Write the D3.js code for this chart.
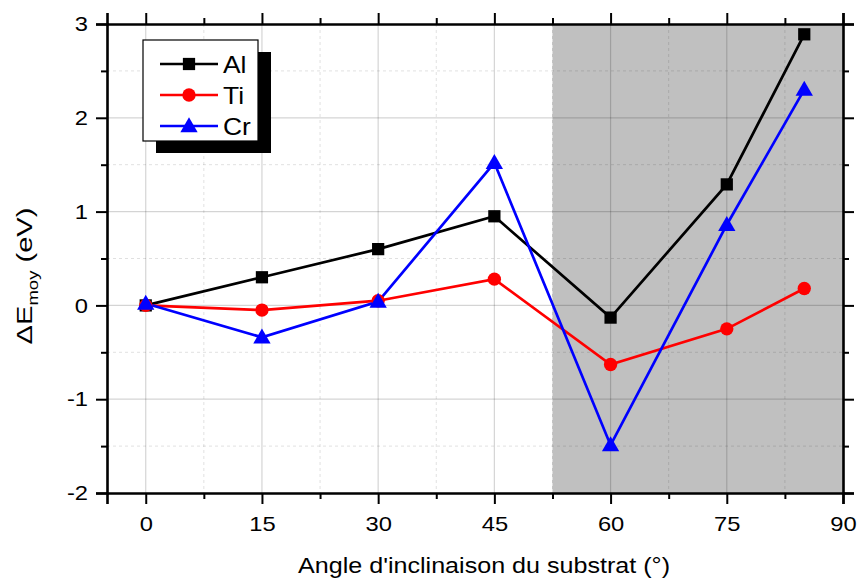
<!DOCTYPE html>
<html><head><meta charset="utf-8">
<script src="https://cdn.jsdelivr.net/npm/d3@7"></script>
<style>body{margin:0;background:#fff}svg{display:block;font-family:"Liberation Sans",Arial,sans-serif}</style>
</head><body><svg id="c" width="858" height="580"></svg>
<script>
const angles = [0, 15, 30, 45, 60, 75, 85];
const alValues = [0, 0.30, 0.60, 0.95, -0.13, 1.29, 2.89];
const tiValues = [0, -0.05, 0.05, 0.28, -0.63, -0.25, 0.18];
const crValues = [0.02, -0.34, 0.04, 1.52, -1.49, 0.86, 2.30];
const seriesNames = ["Al", "Ti", "Cr"];
const xTicks = [0, 15, 30, 45, 60, 75, 90];
const yTicks = [-2, -1, 0, 1, 2, 3];
const shadedRange = [52.5, 90];

const svg = d3.select("#c");
const m = {l:107, r:843, t:24, b:493};
const x = d3.scaleLinear().domain([-5, 90]).range([m.l, m.r]);
const y = d3.scaleLinear().domain([-2, 3]).range([m.b, m.t]);

function stretch(sel, f) {
  sel.each(function(){
    const w = this.getComputedTextLength();
    d3.select(this).attr("textLength", w * f).attr("lengthAdjust", "spacingAndGlyphs");
  });
}

// shaded region
svg.append("rect").attr("x", x(shadedRange[0])).attr("y", m.t)
  .attr("width", x(shadedRange[1]) - x(shadedRange[0])).attr("height", m.b - m.t)
  .attr("fill", "#c0c0c0");

// grid
const xMinor = d3.range(7.5, 90, 15);
const yMinor = d3.range(-1.5, 3, 1);
const g = svg.append("g");
g.selectAll(".xm").data(xMinor).join("line")
  .attr("x1", d=>x(d)).attr("x2", d=>x(d)).attr("y1", m.t).attr("y2", m.b)
  .attr("stroke", "rgba(0,0,0,0.12)").attr("stroke-dasharray", "3,3").attr("stroke-width", 1);
g.selectAll(".ym").data(yMinor).join("line")
  .attr("y1", d=>y(d)).attr("y2", d=>y(d)).attr("x1", m.l).attr("x2", m.r)
  .attr("stroke", "rgba(0,0,0,0.12)").attr("stroke-dasharray", "3,3").attr("stroke-width", 1);
g.selectAll(".xM").data(xTicks.filter(d=>d<90)).join("line")
  .attr("x1", d=>x(d)).attr("x2", d=>x(d)).attr("y1", m.t).attr("y2", m.b)
  .attr("stroke", "rgba(0,0,0,0.17)").attr("stroke-width", 1.2);
g.selectAll(".yM").data(yTicks.filter(d=>d>-2 && d<3)).join("line")
  .attr("y1", d=>y(d)).attr("y2", d=>y(d)).attr("x1", m.l).attr("x2", m.r)
  .attr("stroke", "rgba(0,0,0,0.17)").attr("stroke-width", 1.2);

// axes
const fmt = d => String(d).replace("\u2212", "-");
function addAxis(axisFn, scale, ticks, minor, transform, showLabels, pad){
  const mi = svg.append("g").attr("transform", transform);
  mi.call(axisFn(scale).tickValues(minor).tickSizeOuter(0).tickSize(6).tickFormat(""));
  mi.select(".domain").remove();
  mi.selectAll(".tick line").attr("stroke-width", 2).attr("stroke", "#000");
  const a = svg.append("g").attr("transform", transform);
  a.call(axisFn(scale).tickValues(ticks).tickSizeOuter(0).tickSize(11).tickPadding(pad)
    .tickFormat(showLabels ? fmt : ""));
  a.select(".domain").attr("stroke-width", 2.6).attr("stroke", "#000");
  a.selectAll(".tick line").attr("stroke-width", 2).attr("stroke", "#000");
  a.selectAll("text").attr("font-size", 21).attr("fill", "#000")
    .attr("font-family", "Liberation Sans, Arial, sans-serif");
  if (showLabels) stretch(a.selectAll(".tick text"), 1.13);
  return a;
}
addAxis(d3.axisBottom, x, xTicks, xMinor, `translate(0,${m.b})`, true, 12);
addAxis(d3.axisTop, x, xTicks, xMinor, `translate(0,${m.t})`, false, 3);
addAxis(d3.axisLeft, y, yTicks, yMinor, `translate(${m.l},0)`, true, 8);
addAxis(d3.axisRight, y, yTicks, yMinor, `translate(${m.r},0)`, false, 3);

// series
const colors = ["#000000", "#ff0000", "#0000ff"];
const shapes = [d3.symbolSquare, d3.symbolCircle, d3.symbolTriangle];
const sizes = [150, 140, 130];
const allValues = [alValues, tiValues, crValues];
const line = d3.line().x(d=>x(d[0])).y(d=>y(d[1]));
allValues.forEach((vals, i) => {
  const pts = angles.map((a, j) => [a, vals[j]]);
  svg.append("path").datum(pts).attr("d", line).attr("fill", "none")
    .attr("stroke", colors[i]).attr("stroke-width", 2.7).attr("stroke-linejoin", "miter");
});
allValues.forEach((vals, i) => {
  const pts = angles.map((a, j) => [a, vals[j]]);
  svg.append("g").selectAll("path").data(pts).join("path")
    .attr("transform", d => `translate(${x(d[0])},${y(d[1]) + (i===2 ? 1.2 : 0)})`)
    .attr("d", d3.symbol().type(shapes[i]).size(sizes[i])).attr("fill", colors[i]);
});

// legend
const lg = svg.append("g").attr("transform", "translate(143,40)");
lg.append("rect").attr("x", 13).attr("y", 12).attr("width", 115).attr("height", 101).attr("fill", "#000");
lg.append("rect").attr("x", 0).attr("y", 0).attr("width", 115).attr("height", 101)
  .attr("fill", "#fff").attr("stroke", "#000").attr("stroke-width", 1.2);
seriesNames.forEach((n, i) => {
  const yy = 24 + i * 31;
  lg.append("line").attr("x1", 17).attr("x2", 75).attr("y1", yy).attr("y2", yy)
    .attr("stroke", colors[i]).attr("stroke-width", 2.7);
  lg.append("path").attr("transform", `translate(46,${yy + (i===2?1.2:0)})`)
    .attr("d", d3.symbol().type(shapes[i]).size(sizes[i])).attr("fill", colors[i]);
  const t = lg.append("text").attr("x", 80).attr("y", yy + 9).attr("font-size", 24).text(n);
  stretch(t, 1.1);
});

// titles
const xt = svg.append("text").attr("x", 484).attr("y", 573).attr("text-anchor", "middle")
  .attr("font-size", 22).text("Angle d'inclinaison du substrat (°)");
xt.attr("textLength", 372).attr("lengthAdjust", "spacingAndGlyphs");
const yt = svg.append("text").attr("transform", `translate(32,276) rotate(-90)`)
  .attr("text-anchor", "middle").attr("font-size", 22);
yt.append("tspan").text("ΔE");
yt.append("tspan").attr("font-size", 14).attr("dy", 6).text("moy");
yt.append("tspan").attr("dy", -6).text("  (eV)");
yt.attr("textLength", 137).attr("lengthAdjust", "spacingAndGlyphs");
</script></body></html>
